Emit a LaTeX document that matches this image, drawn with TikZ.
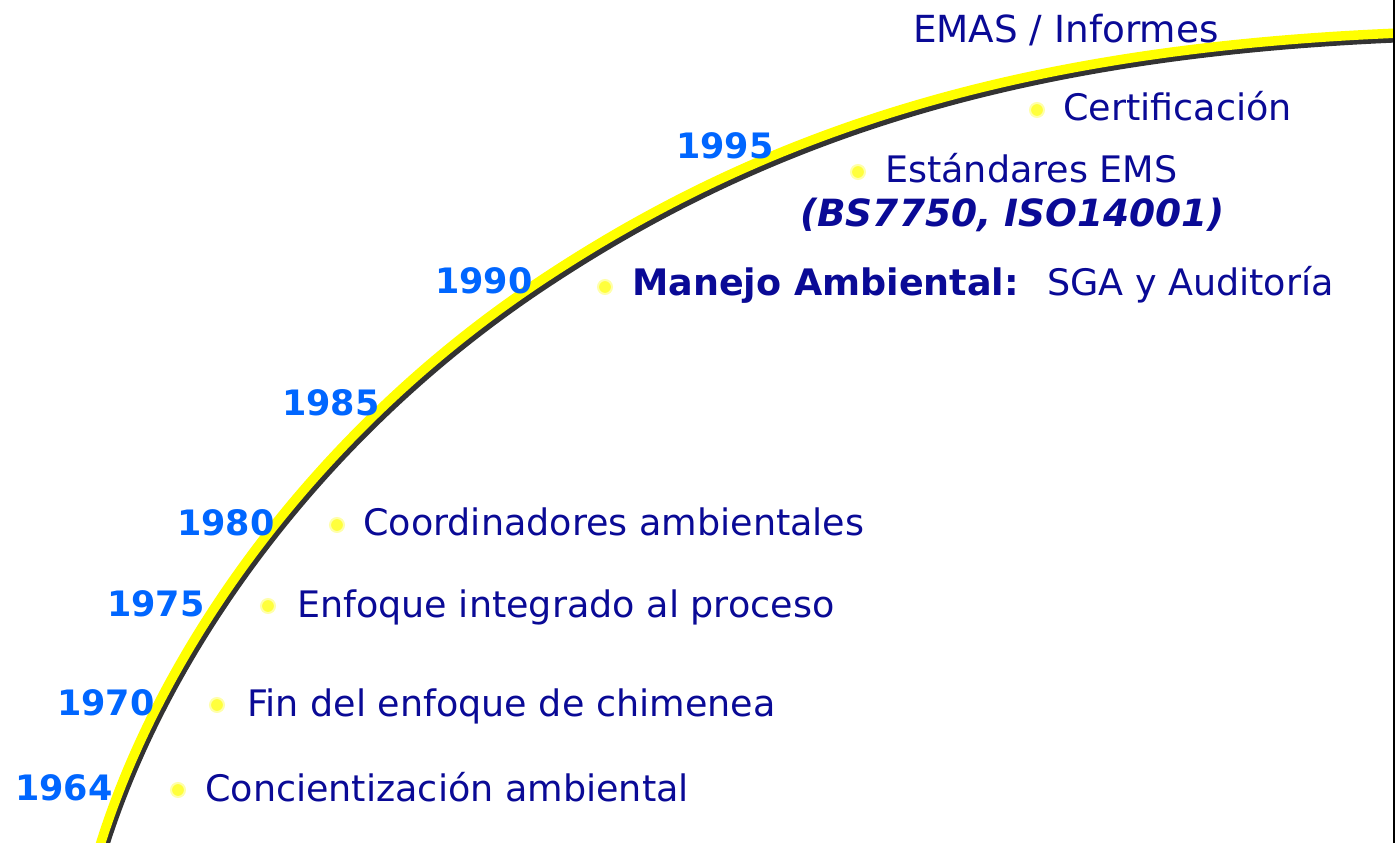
\documentclass[tikz,border=0pt]{standalone}
\usepackage{fontspec}
\setmainfont{DejaVu Sans}
\definecolor{yearblue}{RGB}{0,102,255}
\definecolor{txtblue}{RGB}{10,10,150}
\definecolor{curveyel}{RGB}{255,255,0}
\definecolor{curvesh}{RGB}{51,51,51}
\definecolor{bulyel}{RGB}{255,255,60}
\definecolor{bulrim}{RGB}{255,255,170}
\tikzset{
  year/.style={anchor=base west, inner sep=0pt, text=yearblue, font=\fontsize{35}{40}\selectfont\bfseries},
  item/.style={anchor=base west, inner sep=0pt, text=txtblue, font=\fontsize{36.5}{40}\selectfont},
  bul/.style={circle, fill=bulyel, draw=bulrim, line width=2pt, minimum size=14pt, inner sep=0pt},
}
\begin{document}
\begin{tikzpicture}[x=1pt,y=-1pt]
\useasboundingbox (0,0) rectangle (1395,843);
\fill[white] (0,0) rectangle (1395,843);
\def\curvepath{(98,852) .. controls (160,646) and (319,429) .. (537,283) .. controls (776,123) and (1035,48) .. (1400,33)}
\draw[curvesh, line width=9.5pt, shift={(3,4.5)}] \curvepath;
\draw[curveyel, line width=9.5pt] \curvepath;
\draw[black, line width=2.5pt] (1394,0) -- (1394,843);
% years
\node[year] (y64) at (15,800) {1964};
\node[year] (y70) at (57,715) {1970};
\node[year] (y75) at (107,616) {1975};
\node[year] (y80) at (177,535) {1980};
\node[year] (y85) at (282,415) {1985};
\node[year] (y90) at (435,293) {1990};
\node[year] (y95) at (676,158) {1995};
% bullets
\node[bul] (b64) at (178,790) {};
\node[bul] (b70) at (217,705) {};
\node[bul] (b75) at (268,606) {};
\node[bul] (b80) at (337,525) {};
\node[bul] (b90) at (605,287) {};
\node[bul] (b95) at (858,172) {};
\node[bul] (bce) at (1037,110) {};
% items
\node[item] (t64) at (205,801) {Concientización ambiental};
\node[item] (t70) at (247,716) {Fin del enfoque de chimenea};
\node[item] (t75) at (297,617) {Enfoque integrado al proceso};
\node[item] (t80) at (363,535) {Coordinadores ambientales};
\node[item] (t90) at (632,295) {{\bfseries Manejo Ambiental:}\hspace{28pt}SGA y Auditoría};
\node[item] (t95) at (885,182) {Estándares EMS};
\node[item, font=\fontsize{37.5}{40}\selectfont\bfseries\itshape] (t95b) at (800,226) {(BS7750, ISO14001)};
\node[item] (tce) at (1063,120) {Certificación};
\node[item, font=\fontsize{37.3}{40}\selectfont] (tem) at (913,43) {EMAS / Informes};
\end{tikzpicture}
\end{document}
